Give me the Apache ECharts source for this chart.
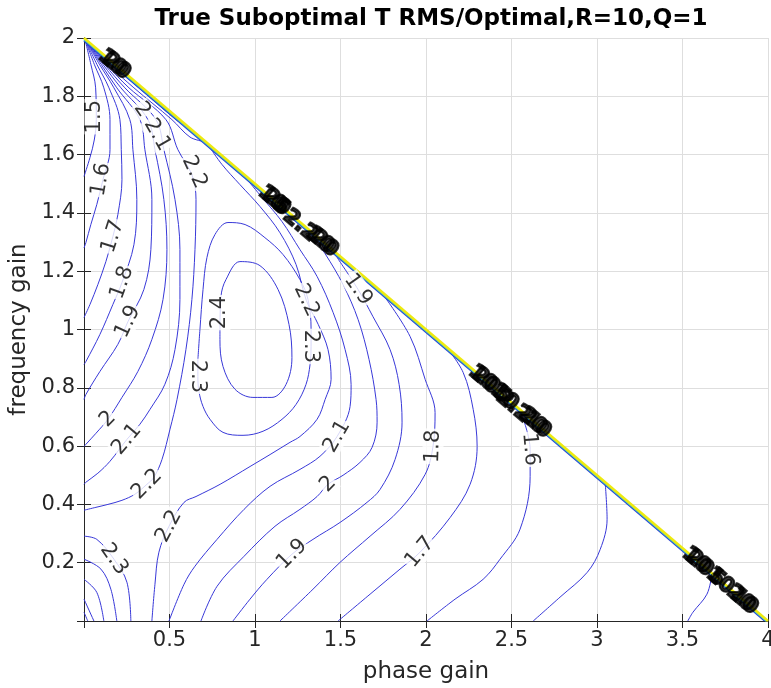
<!DOCTYPE html>
<html><head><meta charset="utf-8">
<script src="https://cdn.jsdelivr.net/npm/echarts@6/dist/echarts.min.js"></script>
<style>html,body{margin:0;padding:0;background:#fff}#c{width:771px;height:688px}</style>
</head><body><div id="c"></div>
<script>
// ---- contour lines (data coordinates: [phase gain, frequency gain]) ----
// left family (start at top-left corner, end on left edge)
const c15L=[[0.005,1.997],[0.04,1.91],[0.068,1.829],[0.072,1.72],[0.06,1.65],[0.035,1.59],[0,1.525]];
const c16L=[[0.005,1.997],[0.06,1.91],[0.116,1.829],[0.152,1.72],[0.152,1.617],[0.111,1.514],[0.075,1.429],[0.040,1.360],[0.011,1.298],[0,1.28]];
const c17L=[[0.005,1.997],[0.075,1.91],[0.146,1.829],[0.210,1.72],[0.218,1.617],[0.222,1.514],[0.198,1.394],[0.169,1.319],[0.128,1.233],[0.081,1.154],[0.035,1.086],[0,1.041]];
const c18L=[[0.005,1.997],[0.09,1.91],[0.175,1.829],[0.268,1.72],[0.286,1.617],[0.309,1.446],[0.292,1.291],[0.222,1.161],[0.169,1.086],[0.093,0.983],[0.011,0.890],[0,0.88]];
const c19L=[[0.005,1.997],[0.10,1.91],[0.192,1.829],[0.327,1.72],[0.356,1.617],[0.397,1.446],[0.391,1.274],[0.350,1.137],[0.257,1.027],[0.198,0.949],[0.093,0.856],[0.011,0.777],[0,0.76]];
const c20L=[[0.005,1.997],[0.11,1.91],[0.216,1.829],[0.374,1.72],[0.415,1.617],[0.467,1.446],[0.485,1.274],[0.462,1.103],[0.397,0.966],[0.315,0.856],[0.222,0.767],[0.140,0.692],[0.070,0.644],[0.011,0.606],[0,0.599]];
const c21L=[[0.005,1.997],[0.12,1.91],[0.239,1.829],[0.421,1.72],[0.467,1.617],[0.532,1.446],[0.561,1.274],[0.561,1.103],[0.532,0.931],[0.473,0.812],[0.386,0.726],[0.327,0.675],[0.251,0.623],[0.152,0.548],[0.081,0.507],[0.011,0.476],[0,0.469]];
const c22L=[[0.005,1.997],[0.13,1.91],[0.263,1.829],[0.479,1.72],[0.549,1.617],[0.631,1.531],[0.655,1.446],[0.649,1.274],[0.631,1.103],[0.596,0.931],[0.544,0.760],[0.503,0.658],[0.456,0.554],[0.409,0.493],[0.368,0.469],[0.298,0.435],[0.222,0.414],[0.140,0.400],[0.070,0.390],[0,0.380]];
// dense high-level lines hugging the boundary near the corner
const h1=[[0.005,1.997],[0.14,1.91],[0.292,1.829],[0.514,1.72],[0.62,1.66],[0.70,1.645]];
const h2=[[0.005,1.997],[0.15,1.915],[0.321,1.829],[0.538,1.72],[0.60,1.695]];
const h3=[[0.005,1.997],[0.16,1.914],[0.30,1.845]];
// bowl around the interior maximum
const c24=[[0.795,1.0],[0.801,1.113],[0.830,1.171],[0.912,1.233],[1.029,1.219],[1.135,1.137],[1.199,1.017],[1.216,0.904],[1.181,0.811],[1.099,0.767],[0.988,0.767],[0.883,0.795],[0.813,0.873],[0.795,0.966],[0.795,1.0]];
const c23=[[0.666,0.897],[0.678,1.0],[0.696,1.137],[0.719,1.247],[0.766,1.326],[0.842,1.367],[0.942,1.36],[1.058,1.315],[1.164,1.257],[1.263,1.171],[1.31,1.103],[1.328,1.0],[1.328,0.942],[1.322,0.88],[1.298,0.811],[1.24,0.743],[1.158,0.692],[1.047,0.651],[0.93,0.637],[0.813,0.647],[0.737,0.692],[0.696,0.736],[0.672,0.788],[0.666,0.839],[0.666,0.897]];
const c22B=[[0.737,1.624],[0.807,1.566],[0.912,1.497],[1.029,1.422],[1.146,1.332],[1.24,1.223],[1.30,1.10],[1.37,1.017],[1.427,0.931],[1.445,0.829],[1.41,0.76],[1.363,0.692],[1.263,0.633],[1.205,0.613],[1.088,0.571],[0.971,0.53],[0.796,0.469],[0.655,0.427],[0.585,0.407],[0.497,0.325],[0.438,0.236],[0.415,0.126],[0.397,0]];
const c21B=[[0.959,1.511],[1.041,1.453],[1.158,1.370],[1.263,1.274],[1.363,1.182],[1.457,1.058],[1.527,0.931],[1.562,0.811],[1.556,0.736],[1.480,0.633],[1.380,0.565],[1.263,0.520],[1.088,0.462],[0.936,0.383],[0.778,0.280],[0.649,0.188],[0.585,0.126],[0.497,0]];
const c20B=[[1.334,1.322],[1.410,1.260],[1.515,1.154],[1.603,1.034],[1.667,0.897],[1.708,0.760],[1.714,0.682],[1.685,0.596],[1.614,0.544],[1.515,0.500],[1.427,0.469],[1.363,0.427],[1.263,0.383],[1.117,0.325],[0.936,0.222],[0.778,0.119],[0.684,0]];
const c19B=[[1.480,1.247],[1.603,1.137],[1.690,1.044],[1.790,0.931],[1.843,0.811],[1.860,0.682],[1.819,0.554],[1.731,0.451],[1.655,0.407],[1.497,0.338],[1.339,0.280],[1.216,0.229],[1.070,0.143],[0.971,0.075],[0.871,0]];
const c18B=[[1.761,1.110],[1.907,0.976],[1.995,0.829],[2.053,0.715],[2.041,0.599],[1.995,0.503],[1.848,0.383],[1.673,0.291],[1.497,0.201],[1.339,0.109],[1.146,0]];
const c17B=[[2.112,0.945],[2.217,0.853],[2.276,0.726],[2.299,0.599],[2.258,0.469],[2.141,0.355],[1.965,0.236],[1.848,0.178],[1.673,0.092],[1.486,0]];
const c16B=[[2.562,0.705],[2.609,0.589],[2.609,0.496],[2.550,0.315],[2.433,0.212],[2.334,0.143],[2.170,0.075],[2.006,0]];
const c15B=[[3.048,0.472],[3.059,0.349],[3.019,0.246],[2.943,0.167],[2.784,0.082],[2.627,0]];
const c14B=[[3.672,0.16],[3.643,0.092],[3.561,0.030],[3.531,0]];
// bottom-left corner arcs
const b23=[[0,0.291],[0.075,0.280],[0.175,0.212],[0.251,0.133],[0.274,0]];
const b24=[[0,0.212],[0.099,0.178],[0.157,0.109],[0.192,0]];
const b25=[[0,0.143],[0.075,0.098],[0.116,0]];
const b26=[[0,0.075],[0.058,0]];
const b27=[[0,0.03],[0.022,0]];
// stability boundary (very high levels packed together)
const edgeYellow=[[0,2],[4,0]];
const edgeCyan=[[0,1.995],[3.99,0]];
const edgeBlue=[[0,1.99],[3.98,0]];

// ---- contour labels ----
const labelText=['1.5','1.6','1.7','1.8','1.9','2','2.1','2.2','2.3','2.2','2','2.1','2.2','2.4','2.3','2.3','2.2','1.9','2.1','2','1.8','1.6','1.7','1.9'];
const labelX=[0.064,0.099,0.169,0.222,0.257,0.140,0.251,0.368,0.175,0.497,0.339,0.427,0.645,0.795,0.666,1.325,1.30,1.603,1.480,1.427,2.041,2.609,1.965,1.216];
const labelY=[1.730,1.514,1.319,1.161,1.027,0.692,0.623,0.469,0.212,0.325,1.754,1.668,1.540,1.058,0.839,0.942,1.10,1.137,0.633,0.469,0.599,0.589,0.236,0.229];
const labelAngle=[90,80,72,70,65,45,50,45,-55,62,-55,-60,-65,90,-90,-90,-65,-55,60,45,88,-85,50,45];
// piled-up labels of the packed levels along the boundary
const blobText=['10','20','10','20','5','2.2','10','20','10','20','5','10','2.2','20','10','10','20','5','10','20','10'];
const blobX=[0.165,0.19,1.10,1.125,1.15,1.263,1.38,1.405,2.33,2.35,2.44,2.46,2.51,2.625,2.65,3.58,3.60,3.70,3.72,3.84,3.86];
const blobY=[1.915,1.903,1.447,1.435,1.422,1.356,1.306,1.294,0.832,0.822,0.777,0.767,0.735,0.685,0.672,0.207,0.197,0.147,0.137,0.077,0.067];

const FONT='DejaVu Sans';
const LINE='#3838d8';
const AX='#262626';
const contourList=[c15L,c16L,c17L,c18L,c19L,c20L,c21L,c22L,h1,h2,h3,c24,c23,c22B,c21B,c20B,c19B,c18B,c17B,c16B,c15B,c14B,b23,b24,b25,b26,b27];

const series=[];
contourList.forEach(d=>series.push({type:'line',data:d,symbol:'none',showSymbol:false,smooth:0.35,
  lineStyle:{color:LINE,width:1},silent:true,z:2,clip:true,animation:false}));
[[edgeBlue,'#2b3fd0',1.5],[edgeCyan,'#30b4cc',1.8],[edgeYellow,'#eeea10',2.6]].forEach(([d,c,w],i)=>series.push({
  type:'line',data:d,symbol:'none',showSymbol:false,lineStyle:{color:c,width:w},silent:true,z:3+i,clip:true,animation:false}));
series.push({type:'scatter',symbol:'circle',symbolSize:0.1,itemStyle:{color:'rgba(0,0,0,0)'},silent:true,z:10,animation:false,
  data:labelText.map((t,i)=>({value:[labelX[i],labelY[i]],label:{show:true,formatter:t,rotate:labelAngle[i]}})),
  label:{show:true,position:'inside',fontFamily:FONT,fontSize:21,color:'#000',backgroundColor:'#fff',padding:[0,1]}});
series.push({type:'scatter',symbol:'circle',symbolSize:0.1,itemStyle:{color:'rgba(0,0,0,0)'},silent:true,z:11,animation:false,
  data:blobText.map((t,i)=>({value:[blobX[i],blobY[i]],label:{show:true,formatter:t,rotate:-40.5}})),
  label:{show:true,position:'inside',fontFamily:FONT,fontSize:21,fontWeight:'bold',color:'#000',
    textBorderColor:'#000',textBorderWidth:2}});

const baseAxis={type:'value',axisLine:{show:true,lineStyle:{color:AX,width:1}},
  axisTick:{show:true,inside:true,length:7,lineStyle:{color:AX}},splitLine:{show:false}};
const chart=echarts.init(document.getElementById('c'),null,{renderer:'canvas'});
chart.setOption({
  animation:false,backgroundColor:'#fff',
  title:{text:'True Suboptimal T RMS/Optimal,R=10,Q=1',left:426,top:3,textAlign:'center',
    textStyle:{fontFamily:FONT,fontSize:23,fontWeight:'bold',color:'#000'}},
  grid:{left:84,right:3,top:38,bottom:67,containLabel:false,outerBoundsMode:'none'},
  xAxis:[
    Object.assign({},baseAxis,{min:0,max:4,interval:0.5,position:'bottom',
      name:'phase gain',nameLocation:'middle',nameGap:40,
      nameTextStyle:{fontFamily:FONT,fontSize:23,color:AX},
      axisLabel:{show:true,fontFamily:FONT,fontSize:21,color:AX,margin:9,showMinLabel:true,showMaxLabel:true,
        formatter:v=>v===0?'':String(v)},
      splitLine:{show:true,lineStyle:{color:'#dedede',width:1}}}),
    Object.assign({},baseAxis,{min:0,max:4,interval:0.5,position:'top',axisLabel:{show:false}})
  ],
  yAxis:[
    Object.assign({},baseAxis,{min:0,max:2,interval:0.2,position:'left',
      name:'frequency gain',nameLocation:'middle',nameGap:52,nameRotate:90,
      nameTextStyle:{fontFamily:FONT,fontSize:23,color:AX},
      axisLabel:{show:true,fontFamily:FONT,fontSize:21,color:AX,margin:9,showMinLabel:true,showMaxLabel:true,
        formatter:v=>v===0?'':String(Math.round(v*10)/10)},
      splitLine:{show:true,lineStyle:{color:'#dedede',width:1}}}),
    Object.assign({},baseAxis,{min:0,max:2,interval:0.2,position:'right',axisLabel:{show:false}})
  ],
  series:series
});
</script></body></html>
